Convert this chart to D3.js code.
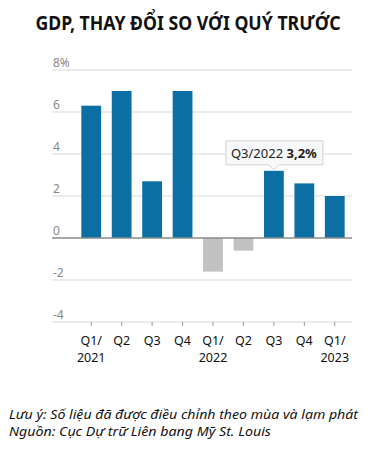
<!DOCTYPE html>
<html lang="vi">
<head>
    <meta charset="UTF-8">
    <title>GDP, thay đổi so với quý trước</title>
    <script src="https://cdnjs.cloudflare.com/ajax/libs/d3/7.8.5/d3.min.js"></script>
    <style>
        body { margin: 0; background: #fff; }
        svg { display: block; font-family: 'Noto Sans', sans-serif; }
    </style>
</head>
<body>
    <svg id="chart" width="375" height="451"></svg>

    <script>
        // data
        const quarters = ["Q1/2021", "Q2/2021", "Q3/2021", "Q4/2021", "Q1/2022", "Q2/2022", "Q3/2022", "Q4/2022", "Q1/2023"];
        const labelTop = ["Q1/", "Q2", "Q3", "Q4", "Q1/", "Q2", "Q3", "Q4", "Q1/"];
        const labelBottom = ["2021", "", "", "", "2022", "", "", "", "2023"];
        const growth = [6.3, 7.0, 2.7, 7.0, -1.6, -0.6, 3.2, 2.6, 2.0];
        const yTicks = [-4, -2, 0, 2, 4, 6, 8];
        const highlight = "Q3/2022";

        const svg = d3.select("#chart");

        const x = d3.scaleBand()
            .domain(quarters)
            .range([76, 350])
            .paddingInner(0.35)
            .paddingOuter(0.175);

        const y = d3.scaleLinear()
            .domain([-4, 8])
            .range([322, 70]);

        const mid = d => x(d) + x.bandwidth() / 2;

        // title
        svg.append("text")
            .attr("x", 188).attr("y", 30)
            .attr("text-anchor", "middle")
            .attr("font-size", 19)
            .attr("font-weight", "bold")
            .attr("textLength", 305)
            .attr("lengthAdjust", "spacingAndGlyphs")
            .attr("fill", "#111")
            .text("GDP, THAY ĐỔI SO VỚI QUÝ TRƯỚC");

        // gridlines
        svg.append("g").selectAll("line")
            .data(yTicks.filter(d => d !== 0))
            .join("line")
            .attr("x1", 52).attr("x2", 352)
            .attr("y1", d => y(d)).attr("y2", d => y(d))
            .attr("stroke", "#e6e6e6")
            .attr("stroke-width", 1.5);

        // y labels
        svg.append("g").selectAll("text")
            .data(yTicks)
            .join("text")
            .attr("x", 53)
            .attr("y", d => y(d) - 3)
            .attr("font-size", 12)
            .attr("fill", "#888")
            .text(d => d === 8 ? "8%" : d);

        // bars
        svg.append("g").selectAll("rect")
            .data(quarters)
            .join("rect")
            .attr("x", d => x(d))
            .attr("width", x.bandwidth())
            .attr("y", (d, i) => y(Math.max(0, growth[i])))
            .attr("height", (d, i) => Math.abs(y(growth[i]) - y(0)))
            .attr("fill", (d, i) => growth[i] < 0 ? "#c1c1c1" : "#0b6fa3");

        // zero line
        svg.append("line")
            .attr("x1", 52).attr("x2", 352)
            .attr("y1", y(0)).attr("y2", y(0))
            .attr("stroke", "#8a8a8a")
            .attr("stroke-width", 1.5);

        // x ticks and labels
        const xAxis = svg.append("g");
        xAxis.selectAll("line")
            .data(quarters)
            .join("line")
            .attr("x1", mid).attr("x2", mid)
            .attr("y1", y(-4)).attr("y2", y(-4) + 4)
            .attr("stroke", "#999");

        xAxis.selectAll("text.top")
            .data(quarters)
            .join("text")
            .attr("class", "top")
            .attr("x", mid)
            .attr("y", 345)
            .attr("text-anchor", "middle")
            .attr("font-size", 12.5)
            .attr("fill", "#111")
            .text((d, i) => labelTop[i]);

        xAxis.selectAll("text.bottom")
            .data(quarters.filter((d, i) => labelBottom[i]))
            .join("text")
            .attr("class", "bottom")
            .attr("x", mid)
            .attr("y", 362)
            .attr("text-anchor", "middle")
            .attr("font-size", 12.5)
            .attr("fill", "#111")
            .text(d => labelBottom[quarters.indexOf(d)]);

        // tooltip on highlighted quarter
        const hi = quarters.indexOf(highlight);
        const cx = mid(highlight);
        const barTop = y(growth[hi]);
        const tip = svg.append("g");
        tip.append("path")
            .attr("d", `M${cx - 48},${barTop - 30} H${cx + 49} V${barTop - 6} H${cx + 5} L${cx},${barTop - 1} L${cx - 5},${barTop - 6} H${cx - 48} Z`)
            .attr("fill", "#f7f8fa")
            .attr("stroke", "#d0d0d0");
        const tipText = tip.append("text")
            .attr("x", cx)
            .attr("y", barTop - 13)
            .attr("text-anchor", "middle")
            .attr("font-size", 13)
            .attr("fill", "#222");
        tipText.append("tspan").text(highlight + " ");
        tipText.append("tspan").attr("font-weight", "bold").text(String(growth[hi]).replace(".", ",") + "%");

        // notes
        const notes = svg.append("g")
            .attr("font-size", 13)
            .attr("font-style", "italic")
            .attr("fill", "#111");
        notes.append("text")
            .attr("x", 9).attr("y", 419)
            .attr("textLength", 349)
            .attr("lengthAdjust", "spacingAndGlyphs")
            .text("Lưu ý: Số liệu đã được điều chỉnh theo mùa và lạm phát");
        notes.append("text")
            .attr("x", 9).attr("y", 436)
            .attr("textLength", 262)
            .attr("lengthAdjust", "spacingAndGlyphs")
            .text("Nguồn: Cục Dự trữ Liên bang Mỹ St. Louis");
    </script>
</body>
</html>
